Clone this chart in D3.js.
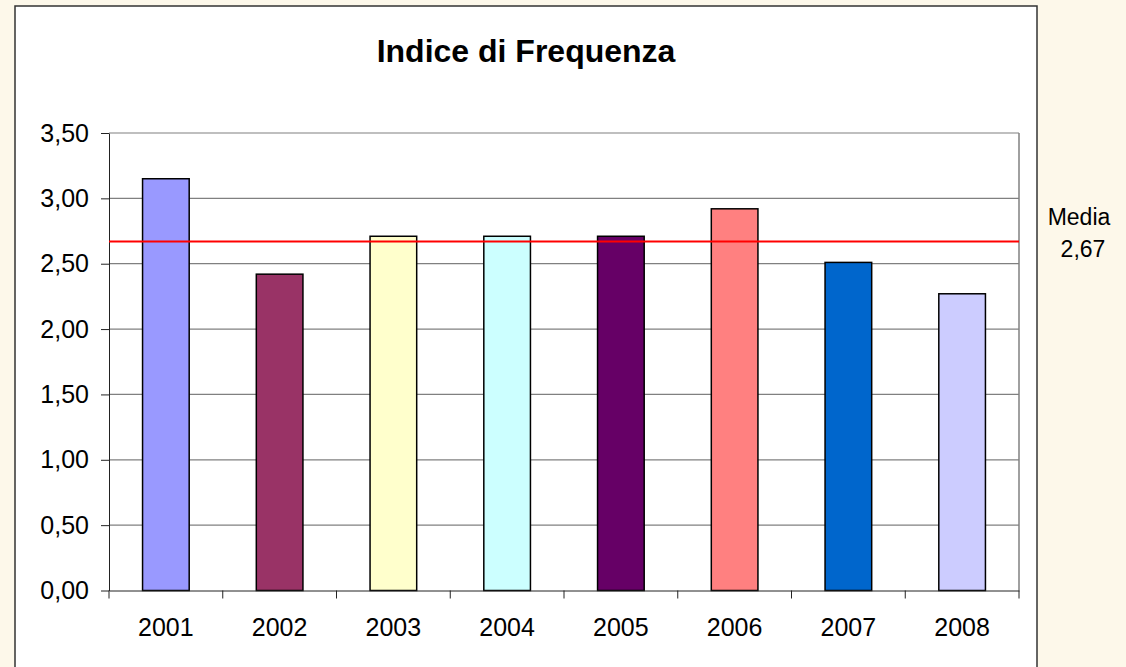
<!DOCTYPE html>
<html>
<head>
<meta charset="utf-8">
<script src="https://cdn.jsdelivr.net/npm/d3@7"></script>
<style>
  html, body { margin: 0; padding: 0; background: #fdf8ea; }
  svg { display: block; font-family: "Liberation Sans", Arial, sans-serif; }
</style>
</head>
<body>
<svg id="chart" width="1126" height="667"></svg>
<script>
// ─── Data ────────────────────────────────────────────────────────────────────
const years  = ['2001', '2002', '2003', '2004', '2005', '2006', '2007', '2008'];
const values = [3.15, 2.42, 2.71, 2.71, 2.71, 2.92, 2.51, 2.27];
const colors = ['#9999ff', '#993366', '#ffffcc', '#ccffff', '#660066', '#ff8080', '#0066cc', '#ccccff'];
const yTicks = [0, 0.5, 1, 1.5, 2, 2.5, 3, 3.5];
const media  = 2.67;
const title  = 'Indice di Frequenza';

// ─── Setup ───────────────────────────────────────────────────────────────────
const svg = d3.select('#chart');
const plot = { left: 109, right: 1019, top: 133, bottom: 590.5 };
const fmt = d => d3.format('.2f')(d).replace('.', ',');

// chart box
svg.append('rect')
  .attr('x', 15).attr('y', 6)
  .attr('width', 1022).attr('height', 680)
  .attr('fill', '#fff')
  .attr('stroke', '#333').attr('stroke-width', 1.5);

svg.append('text')
  .attr('x', 526).attr('y', 62)
  .attr('text-anchor', 'middle')
  .attr('font-size', 32).attr('font-weight', 'bold')
  .text(title);

// ─── Scales ──────────────────────────────────────────────────────────────────
const x = d3.scaleBand().domain(years).range([plot.left, plot.right]).padding(0);
const y = d3.scaleLinear().domain([0, 3.5]).range([plot.bottom, plot.top]);
const barW = x.bandwidth() * 0.41;

// gridlines
svg.append('g')
  .selectAll('line')
  .data(yTicks.filter(d => d > 0))
  .join('line')
  .attr('x1', plot.left).attr('x2', plot.right)
  .attr('y1', d => y(d)).attr('y2', d => y(d))
  .attr('stroke', '#808080').attr('stroke-width', 1.2);

// right border of plot area
svg.append('line')
  .attr('x1', plot.right).attr('x2', plot.right)
  .attr('y1', plot.top).attr('y2', plot.bottom)
  .attr('stroke', '#808080').attr('stroke-width', 1.5);

// ─── Bars ────────────────────────────────────────────────────────────────────
svg.append('g')
  .selectAll('rect')
  .data(years)
  .join('rect')
  .attr('x', (d) => x(d) + (x.bandwidth() - barW) / 2)
  .attr('y', (d, i) => y(values[i]))
  .attr('width', barW)
  .attr('height', (d, i) => y(0) - y(values[i]))
  .attr('fill', (d, i) => colors[i])
  .attr('stroke', '#000').attr('stroke-width', 1.5);

// ─── Axes ────────────────────────────────────────────────────────────────────
const yAxis = svg.append('g')
  .attr('transform', `translate(${plot.left},0)`)
  .call(d3.axisLeft(y).tickValues(yTicks).tickFormat(fmt).tickSize(8).tickPadding(12).tickSizeOuter(0));
yAxis.selectAll('text').attr('font-size', 25).attr('fill', '#000').attr('font-family', 'Liberation Sans, Arial, sans-serif');
yAxis.selectAll('line, path').attr('stroke', '#222');

const xAxis = svg.append('g')
  .attr('transform', `translate(0,${plot.bottom})`)
  .call(d3.axisBottom(x).tickSize(0).tickPadding(28).tickSizeOuter(0));
xAxis.selectAll('text').attr('font-size', 25).attr('fill', '#000').attr('font-family', 'Liberation Sans, Arial, sans-serif');
xAxis.select('.domain').attr('stroke', '#222');

// category boundary ticks
svg.append('g')
  .selectAll('line')
  .data(years.concat(['end']))
  .join('line')
  .attr('x1', (d, i) => plot.left + i * x.step())
  .attr('x2', (d, i) => plot.left + i * x.step())
  .attr('y1', plot.bottom).attr('y2', plot.bottom + 8)
  .attr('stroke', '#222');

// ─── Media line ──────────────────────────────────────────────────────────────
svg.append('line')
  .attr('x1', plot.left).attr('x2', plot.right)
  .attr('y1', y(media)).attr('y2', y(media))
  .attr('stroke', '#ff0000').attr('stroke-width', 2);

svg.append('text')
  .attr('x', 1079).attr('y', 225)
  .attr('text-anchor', 'middle')
  .attr('font-size', 23)
  .text('Media');
svg.append('text')
  .attr('x', 1083).attr('y', 257)
  .attr('text-anchor', 'middle')
  .attr('font-size', 23)
  .text(fmt(media));
</script>
</body>
</html>
